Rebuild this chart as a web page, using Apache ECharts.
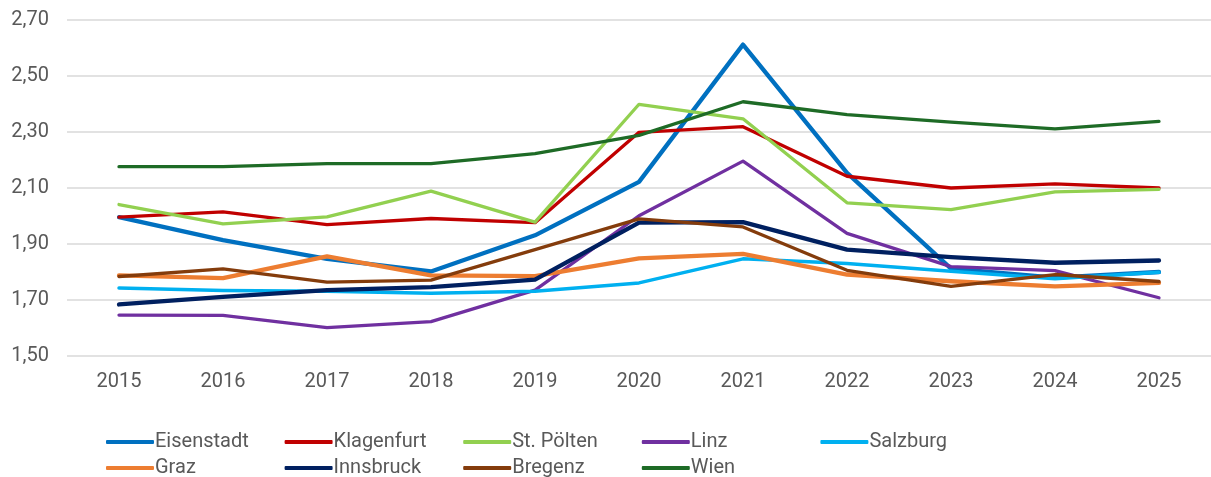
<!DOCTYPE html>
<html>
<head>
<meta charset="utf-8">
<script src="https://cdn.jsdelivr.net/npm/echarts@6/dist/echarts.min.js"></script>
<style>html,body{margin:0;padding:0;background:#fff}#c{width:1211px;height:477px}</style>
</head>
<body>
<div id="c"></div>
<script>
const years = ['2015','2016','2017','2018','2019','2020','2021','2022','2023','2024','2025'];
const eisenstadt = [1.996,1.914,1.847,1.802,1.931,2.122,2.612,2.154,1.812,1.780,1.800];
const klagenfurt = [1.996,2.015,1.969,1.991,1.976,2.299,2.319,2.142,2.100,2.115,2.100];
const stPoelten  = [2.041,1.972,1.997,2.089,1.978,2.399,2.347,2.047,2.023,2.086,2.095];
const linz       = [1.646,1.645,1.601,1.623,1.735,2.001,2.196,1.938,1.819,1.805,1.708];
const salzburg   = [1.743,1.734,1.731,1.724,1.731,1.761,1.847,1.830,1.803,1.776,1.799];
const graz       = [1.788,1.778,1.856,1.788,1.785,1.849,1.865,1.791,1.767,1.749,1.761];
const innsbruck  = [1.684,1.711,1.735,1.746,1.773,1.976,1.978,1.880,1.853,1.833,1.841];
const bregenz    = [1.784,1.811,1.764,1.771,1.880,1.990,1.961,1.806,1.749,1.791,1.766];
const wien       = [2.176,2.176,2.187,2.187,2.223,2.288,2.408,2.362,2.335,2.311,2.338];
const yTicks = {min: 1.5, max: 2.7, interval: 0.2};

const seriesDefs = [
  ['Eisenstadt', eisenstadt, '#0070C0', 4.3],
  ['Klagenfurt', klagenfurt, '#C00000', 3.3],
  ['St. Pölten', stPoelten, '#92D050', 3.3],
  ['Linz', linz, '#7030A0', 3.3],
  ['Salzburg', salzburg, '#00B0F0', 3.5],
  ['Graz', graz, '#ED7D31', 4.3],
  ['Innsbruck', innsbruck, '#002060', 4.3],
  ['Bregenz', bregenz, '#843C0C', 3.3],
  ['Wien', wien, '#1E6B26', 3.3]
];

const font = 'Roboto, "Noto Sans", sans-serif';
const legends = seriesDefs.map((d, i) => ({
  left: 106 + 178.6 * (i < 5 ? i : i - 5),
  top: i < 5 ? 432 : 458,
  data: [d[0]],
  itemWidth: 48, itemHeight: 4, icon: 'roundRect', padding: 0,
  textStyle: {fontFamily: font, fontSize: 20, color: '#595959', padding: [0, 0, 0, -4]},
  selectedMode: false
}));

const chart = echarts.init(document.getElementById('c'));
chart.setOption({
  animation: false,
  grid: {left: 67, top: 20, width: 1148, height: 336, containLabel: false},
  legend: legends,
  xAxis: {
    type: 'category', data: years, boundaryGap: true,
    axisLine: {show: false}, axisTick: {show: false},
    axisLabel: {fontFamily: font, fontSize: 20, color: '#595959', margin: 16}
  },
  yAxis: {
    type: 'value', min: yTicks.min, max: yTicks.max, interval: yTicks.interval,
    axisLine: {show: false}, axisTick: {show: false},
    splitLine: {lineStyle: {color: '#d9d9d9', width: 1.5}},
    axisLabel: {fontFamily: font, fontSize: 20, color: '#595959', margin: 18,
      formatter: v => v.toFixed(2).replace('.', ',')}
  },
  series: seriesDefs.map(([name, data, color, w]) => ({
    name, type: 'line', data, symbol: 'none', smooth: false,
    itemStyle: {color},
    lineStyle: {color, width: w, cap: 'round', join: 'round'}
  }))
});
</script>
</body>
</html>
